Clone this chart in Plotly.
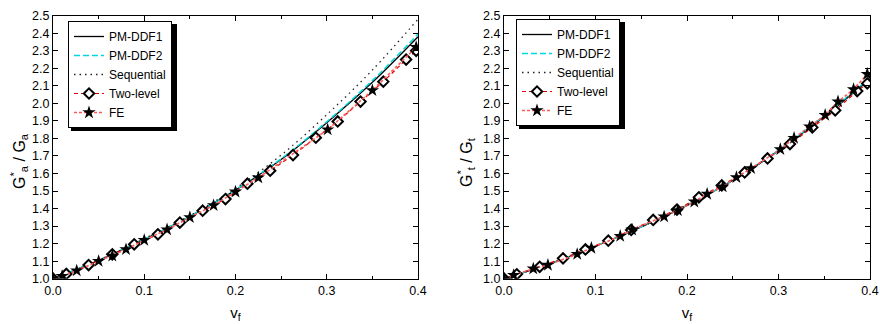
import plotly.graph_objects as go

# ---------------- data ----------------
vf_curve = [0.0, 0.05, 0.1, 0.15, 0.2, 0.25, 0.3, 0.35, 0.4]

# left panel: Ga*/Ga
a_pm1 = [1.0, 1.105, 1.225, 1.355, 1.505, 1.68, 1.89, 2.12, 2.38]
a_pm2 = [1.0, 1.105, 1.225, 1.356, 1.507, 1.684, 1.895, 2.13, 2.395]
a_seq = [1.0, 1.105, 1.228, 1.36, 1.515, 1.705, 1.935, 2.19, 2.48]

a_two_x = [0.0, 0.0146, 0.039, 0.065, 0.089, 0.115, 0.139, 0.164, 0.189, 0.213,
           0.238, 0.263, 0.288, 0.312, 0.337, 0.362, 0.387, 0.398]
a_two_y = [1.0, 1.027, 1.078, 1.139, 1.196, 1.253, 1.32, 1.388, 1.454, 1.542,
           1.616, 1.705, 1.804, 1.897, 2.01, 2.124, 2.25, 2.30]

a_fe_x = [0.0, 0.01, 0.026, 0.05, 0.065, 0.08, 0.1, 0.125, 0.15, 0.176, 0.2,
          0.225, 0.301, 0.35, 0.398]
a_fe_y = [1.0, 1.015, 1.046, 1.10, 1.13, 1.167, 1.22, 1.28, 1.35, 1.418, 1.496,
          1.576, 1.85, 2.074, 2.32]

# right panel: Gt*/Gt
t_pm1 = [1.0, 1.085, 1.185, 1.295, 1.418, 1.56, 1.73, 1.925, 2.14]
t_pm2 = [1.0, 1.085, 1.186, 1.296, 1.42, 1.562, 1.733, 1.93, 2.145]
t_seq = [1.0, 1.085, 1.185, 1.295, 1.418, 1.56, 1.73, 1.926, 2.142]

t_two_x = [0.0, 0.014, 0.039, 0.0645, 0.089, 0.114, 0.139, 0.163, 0.189, 0.213,
           0.238, 0.263, 0.288, 0.3125, 0.337, 0.362, 0.386, 0.397]
t_two_y = [1.0, 1.025, 1.068, 1.116, 1.167, 1.217, 1.278, 1.335, 1.394, 1.464,
           1.532, 1.606, 1.686, 1.768, 1.863, 1.96, 2.07, 2.114]

t_fe_x = [0.0, 0.0106, 0.032, 0.048, 0.08, 0.0955, 0.127, 0.14, 0.175, 0.19,
          0.208, 0.222, 0.239, 0.254, 0.27, 0.302, 0.317, 0.334, 0.351, 0.365,
          0.382, 0.397]
t_fe_y = [1.0, 1.02, 1.057, 1.078, 1.14, 1.175, 1.243, 1.279, 1.354, 1.39,
          1.439, 1.483, 1.525, 1.578, 1.629, 1.738, 1.802, 1.867, 1.933, 2.01,
          2.08, 2.167]

names = ["PM-DDF1", "PM-DDF2", "Sequential", "Two-level", "FE"]
y_titles = ["G<sup>*</sup><sub>a</sub> / G<sub>a</sub>",
            "G<sup>*</sup><sub>t</sub> / G<sub>t</sub>"]
x_title = "v<sub>f</sub>"
y_ticks = [1.0, 1.1, 1.2, 1.3, 1.4, 1.5, 1.6, 1.7, 1.8, 1.9, 2.0, 2.1, 2.2, 2.3, 2.4, 2.5]
x_ticks = [0.0, 0.1, 0.2, 0.3, 0.4]

FONT = "Liberation Sans, Arial, sans-serif"
W, H = 880, 324
fig = go.Figure()


def add_panel(xa, ya, leg, pm1, pm2, seq, twx, twy, fex, fey):
    fig.add_trace(go.Scatter(x=vf_curve, y=pm1, name=names[0], mode="lines",
                             line=dict(color="black", width=1.3, shape="spline"),
                             xaxis=xa, yaxis=ya, legend=leg))
    fig.add_trace(go.Scatter(x=vf_curve, y=pm2, name=names[1], mode="lines",
                             line=dict(color="#00d8e0", width=1.5, dash="6px,3px", shape="spline"),
                             xaxis=xa, yaxis=ya, legend=leg))
    fig.add_trace(go.Scatter(x=vf_curve, y=seq, name=names[2], mode="lines",
                             line=dict(color="#222222", width=1.3, dash="1.5px,4px", shape="spline"),
                             xaxis=xa, yaxis=ya, legend=leg))
    fig.add_trace(go.Scatter(x=twx, y=twy, name=names[3], mode="lines+markers",
                             line=dict(color="#e00000", width=1.2, dash="4px,3px"),
                             marker=dict(symbol="diamond", size=8, color="white",
                                         line=dict(color="black", width=2)),
                             xaxis=xa, yaxis=ya, legend=leg))
    fig.add_trace(go.Scatter(x=fex, y=fey, name=names[4], mode="lines+markers",
                             line=dict(color="#ff5a5a", width=1.6, dash="3px,2px"),
                             marker=dict(symbol="star", size=10, color="black",
                                         line=dict(width=0)),
                             xaxis=xa, yaxis=ya, legend=leg))


add_panel("x", "y", "legend", a_pm1, a_pm2, a_seq, a_two_x, a_two_y, a_fe_x, a_fe_y)
add_panel("x2", "y2", "legend2", t_pm1, t_pm2, t_seq, t_two_x, t_two_y, t_fe_x, t_fe_y)

ax_common = dict(showline=True, linecolor="black", linewidth=1, mirror="ticks",
                 ticks="inside", ticklen=5, tickcolor="black", tickwidth=1,
                 showgrid=False, zeroline=False, automargin=False,
                 tickfont=dict(family=FONT, size=12.5, color="black"))

xcommon = dict(ax_common, range=[0, 0.4], tickvals=x_ticks, tickformat=".1f",
               minor=dict(ticks="inside", ticklen=3, dtick=0.05, tickcolor="black", showgrid=False),
               title=dict(text=x_title, font=dict(family=FONT, size=15, color="black"),
                          standoff=10))
ycommon = dict(ax_common, range=[1.0, 2.5], tickvals=y_ticks, tickformat=".1f")

Y0, Y1 = 1 - 278.7 / H, 1 - 15.7 / H
LEGFONT = dict(family=FONT, size=12, color="black")
fig.update_layout(
    width=W, height=H,
    margin=dict(l=0, r=0, t=0, b=0),
    paper_bgcolor="white", plot_bgcolor="white",
    font=dict(family=FONT, size=13, color="black"),
    xaxis=dict(xcommon, domain=[53 / W, 418 / W], anchor="y"),
    yaxis=dict(ycommon, domain=[Y0, Y1], anchor="x"),
    xaxis2=dict(xcommon, domain=[504 / W, 870 / W], anchor="y2"),
    yaxis2=dict(ycommon, domain=[Y0, Y1], anchor="x2"),
    legend=dict(x=68 / W, y=1 - 21 / H, xanchor="left", yanchor="top",
                bgcolor="white", bordercolor="black", borderwidth=1,
                font=LEGFONT, tracegroupgap=0, itemwidth=30),
    legend2=dict(x=516 / W, y=1 - 19 / H, xanchor="left", yanchor="top",
                 bgcolor="white", bordercolor="black", borderwidth=1,
                 font=LEGFONT, tracegroupgap=0, itemwidth=30),
    showlegend=True,
)

# rotated y-axis titles
for txt, px, py in [(y_titles[0], 19, 161), (y_titles[1], 466, 162)]:
    fig.add_annotation(text=txt, xref="paper", yref="paper", x=px / W, y=1 - py / H,
                       xanchor="center", yanchor="middle", textangle=-90, showarrow=False,
                       font=dict(family=FONT, size=16, color="black"))

# legend drop shadows (legend boxes drawn on top of these)
for x0, y0, x1, y1 in [(68, 21, 174, 128), (516, 19, 622, 126)]:
    fig.add_shape(type="rect", xref="paper", yref="paper",
                  x0=(x0 + 3) / W, x1=(x1 + 3) / W, y0=1 - (y1 + 3) / H, y1=1 - (y0 + 3) / H,
                  fillcolor="black", line=dict(width=0), layer="above")

fig.write_html("out.html", config={"displayModeBar": False},
               post_script="document.body.style.margin='0px';")
